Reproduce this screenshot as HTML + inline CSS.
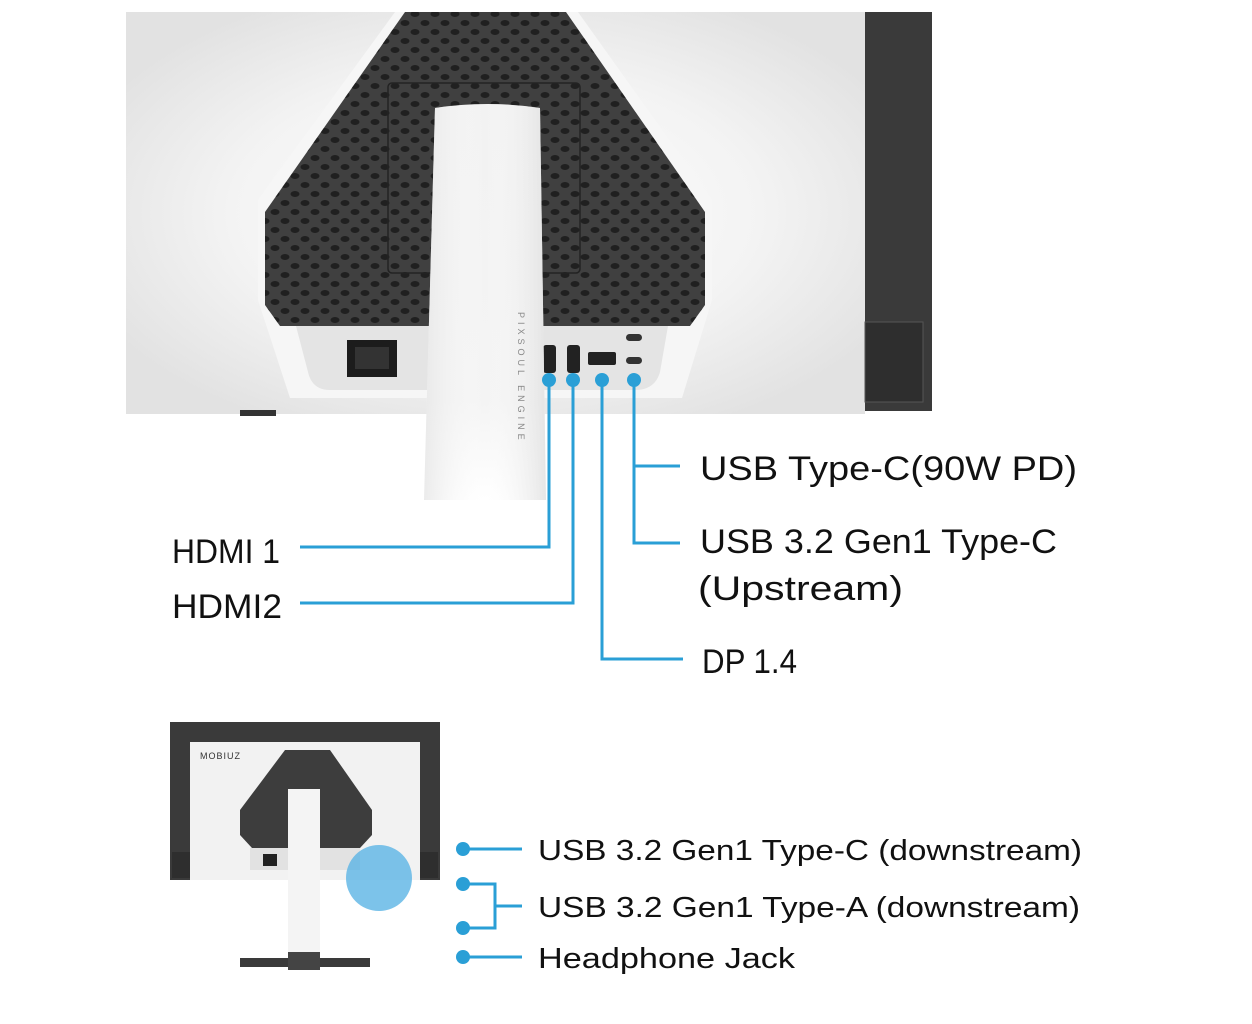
<!DOCTYPE html>
<html><head><meta charset="utf-8"><style>
html,body{margin:0;padding:0;background:#fff;}
svg{display:block}
text{font-family:"Liberation Sans",sans-serif;fill:#111;}
</style></head><body>
<svg width="1252" height="1024" viewBox="0 0 1252 1024" xmlns="http://www.w3.org/2000/svg">
<defs>
<radialGradient id="bg" cx="0.5" cy="0.5" r="0.6">
<stop offset="0" stop-color="#ffffff"/><stop offset="0.6" stop-color="#f3f3f3"/><stop offset="1" stop-color="#e2e2e2"/>
</radialGradient>
<linearGradient id="col" x1="0" y1="0" x2="0" y2="1">
<stop offset="0" stop-color="#f2f2f2"/><stop offset="0.75" stop-color="#f4f4f4"/><stop offset="1" stop-color="#ffffff"/>
</linearGradient>
<linearGradient id="colh" x1="0" y1="0" x2="1" y2="0">
<stop offset="0" stop-color="#e6e6e6" stop-opacity="0.8"/><stop offset="0.5" stop-color="#fff" stop-opacity="0"/><stop offset="1" stop-color="#e0e0e0" stop-opacity="0.8"/>
</linearGradient>
<pattern id="holes" width="20" height="18" patternUnits="userSpaceOnUse">
<ellipse cx="5" cy="5" rx="4.5" ry="3" fill="#151515"/><ellipse cx="15" cy="14" rx="4.5" ry="3" fill="#151515"/>
</pattern>
</defs>
<rect x="126" y="12" width="739" height="402" fill="url(#bg)"/>
<rect x="865" y="12" width="67" height="399" fill="#3a3a3a"/>
<rect x="865" y="322" width="58" height="80" fill="#2e2e2e" stroke="#555" stroke-width="1"/>
<polygon points="395,12 578,12 712,200 712,300 682,398 290,398 258,300 258,200" fill="#f6f6f6"/>
<polygon points="405,12 566,12 705,212 705,305 690,326 280,326 265,305 265,212" fill="#404040"/>
<polygon points="405,12 566,12 705,212 705,305 690,326 280,326 265,305 265,212" fill="url(#holes)" opacity="0.75"/>
<rect x="388" y="83" width="192" height="190" rx="4" fill="none" stroke="#222" stroke-width="1.5"/>
<path d="M296,326 L668,326 L660,372 Q655,390 635,390 L330,390 Q312,390 308,372 Z" fill="#e4e4e4"/>
<rect x="347" y="340" width="50" height="37" fill="#1c1c1c"/>
<rect x="355" y="347" width="34" height="22" fill="#333"/>
<rect x="543" y="345" width="13" height="28" rx="3" fill="#222"/>
<rect x="567" y="345" width="13" height="28" rx="3" fill="#222"/>
<rect x="588" y="352" width="28" height="13" rx="2" fill="#222"/>
<rect x="626" y="334" width="16" height="7" rx="3.5" fill="#333"/>
<rect x="626" y="357" width="16" height="7" rx="3.5" fill="#333"/>
<path d="M435,108 Q487,100 540,108 L546,500 L424,500 Z" fill="url(#col)"/>
<path d="M435,108 Q487,100 540,108 L546,500 L424,500 Z" fill="url(#colh)"/>
<rect x="240" y="410" width="36" height="6" fill="#333"/>
<text x="518" y="312" font-size="9" style="fill:#888;letter-spacing:4px" transform="rotate(90 518 312)">PIXSOUL  ENGINE</text>
<g stroke="#2a9fd6" stroke-width="3" fill="none">
<path d="M549,380 V547 H300"/>
<path d="M573,380 V603 H300"/>
<path d="M602,380 V659 H683"/>
<path d="M634,380 V543 H680 M634,466 H680"/>
</g>
<g fill="#2a9fd6">
<circle cx="549" cy="380" r="7"/><circle cx="573" cy="380" r="7"/><circle cx="602" cy="380" r="7"/><circle cx="634" cy="380" r="7"/>
</g>
<g font-size="34">
<text x="700" y="480" textLength="377" lengthAdjust="spacingAndGlyphs">USB Type-C(90W PD)</text>
<text x="700" y="553" textLength="357" lengthAdjust="spacingAndGlyphs">USB 3.2 Gen1 Type-C</text>
<text x="698" y="600" textLength="205" lengthAdjust="spacingAndGlyphs">(Upstream)</text>
<text x="702" y="673" textLength="95" lengthAdjust="spacingAndGlyphs">DP 1.4</text>
<text x="172" y="563" textLength="108" lengthAdjust="spacingAndGlyphs">HDMI 1</text>
<text x="172" y="618" textLength="110" lengthAdjust="spacingAndGlyphs">HDMI2</text>
</g>
<rect x="170" y="722" width="270" height="158" fill="#3a3a3a"/>
<rect x="190" y="742" width="230" height="138" fill="#f2f2f2"/>
<rect x="172" y="852" width="18" height="26" fill="#2e2e2e"/>
<rect x="420" y="852" width="18" height="26" fill="#2e2e2e"/>
<text x="200" y="759" font-size="9" style="fill:#333;letter-spacing:1px">MOBIUZ</text>
<polygon points="285,750 330,750 372,810 372,835 360,848 252,848 240,835 240,810" fill="#3d3d3d"/>
<rect x="250" y="848" width="110" height="22" fill="#e2e2e2"/>
<rect x="263" y="854" width="14" height="12" fill="#222"/>
<rect x="288" y="789" width="32" height="170" fill="#f4f4f4"/>
<rect x="240" y="958" width="130" height="9" fill="#3a3a3a"/>
<rect x="288" y="952" width="32" height="18" fill="#444"/>
<circle cx="379" cy="878" r="33" fill="#5bb4e5" opacity="0.8"/>
<g stroke="#2a9fd6" stroke-width="3" fill="none">
<path d="M463,849 H522"/>
<path d="M463,884 H495 V928 H463 M495,906 H522"/>
<path d="M463,957 H522"/>
</g>
<g fill="#2a9fd6">
<circle cx="463" cy="849" r="7"/><circle cx="463" cy="884" r="7"/><circle cx="463" cy="928" r="7"/><circle cx="463" cy="957" r="7"/>
</g>
<g font-size="29">
<text x="538" y="860" textLength="544" lengthAdjust="spacingAndGlyphs">USB 3.2 Gen1 Type-C (downstream)</text>
<text x="538" y="917" textLength="542" lengthAdjust="spacingAndGlyphs">USB 3.2 Gen1 Type-A (downstream)</text>
<text x="538" y="968" textLength="257" lengthAdjust="spacingAndGlyphs">Headphone Jack</text>
</g>
</svg>
</body></html>
